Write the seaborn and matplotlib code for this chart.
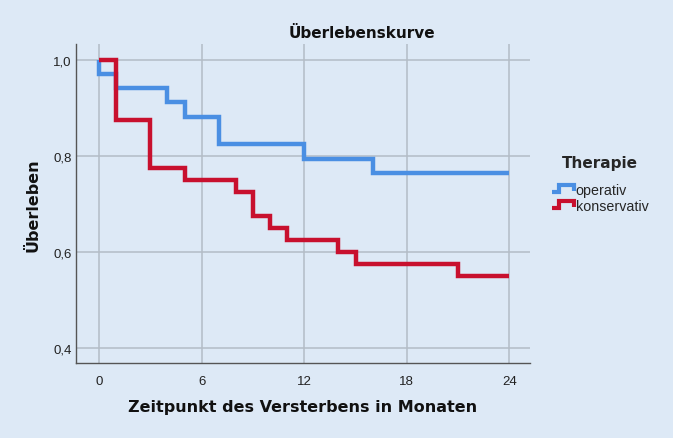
import pandas as pd
import numpy as np
import seaborn as sns
import matplotlib.pyplot as plt
from matplotlib.lines import Line2D
from matplotlib.legend_handler import HandlerBase

# Kaplan-Meier steps
op_time = [0, 0, 1, 4, 5, 7, 12, 16, 24]
op_surv = [1.0, 0.971, 0.941, 0.912, 0.882, 0.824, 0.794, 0.765, 0.765]
kons_time = [0, 1, 3, 5, 8, 9, 10, 11, 14, 15, 21, 24]
kons_surv = [1.0, 0.875, 0.775, 0.75, 0.725, 0.675, 0.65, 0.625, 0.6, 0.575, 0.55, 0.55]
groups = ["operativ", "konservativ"]
x_ticks = [0, 6, 12, 18, 24]
y_ticks = [0.4, 0.6, 0.8, 1.0]
y_ticklabels = ["0,4", "0,6", "0,8", "1,0"]

bg = "#dde9f6"
colors = {"operativ": "#4a8fe3", "konservativ": "#c8102e"}

df = pd.concat([
    pd.DataFrame({"Zeit": op_time, "Ueberleben": op_surv, "Therapie": "operativ"}),
    pd.DataFrame({"Zeit": kons_time, "Ueberleben": kons_surv, "Therapie": "konservativ"}),
], ignore_index=True)

sns.set_style("white", rc={"axes.facecolor": bg, "figure.facecolor": bg})
plt.rcParams["font.family"] = ["Liberation Sans", "DejaVu Sans"]

fig = plt.figure(figsize=(6.73, 4.39), dpi=100)
ax = fig.add_axes([76 / 673, 1 - 364 / 439, (530 - 76) / 673, (364 - 45) / 439])

sns.lineplot(data=df, x="Zeit", y="Ueberleben", hue="Therapie", hue_order=groups,
             palette=colors, estimator=None, sort=False, drawstyle="steps-post",
             linewidth=3.2, ax=ax, legend=True, solid_joinstyle="miter", solid_capstyle="butt")

ax.set_xlim(-1.35, 25.2)
ax.set_ylim(0.369, 1.033)
ax.set_xticks(x_ticks)
ax.set_yticks(y_ticks)
ax.set_yticklabels(y_ticklabels)
ax.tick_params(length=0, labelsize=9.5, colors="#222222")
ax.tick_params(axis="x", pad=9)
ax.tick_params(axis="y", pad=3)
ax.grid(True, color="#b3bcc6", linewidth=1.1)
ax.set_axisbelow(True)
for s in ["top", "right"]:
    ax.spines[s].set_visible(False)
for s in ["left", "bottom"]:
    ax.spines[s].set_color("#555555")
    ax.spines[s].set_linewidth(1.0)
ax.set_xlabel("")
ax.set_ylabel("")

bold = dict(family="DejaVu Sans", fontweight="bold", color="#111111")
fig.text(362 / 673, 1 - 33 / 439, "Überlebenskurve", ha="center", va="center", fontsize=11, **bold)
fig.text(303 / 673, 1 - 408 / 439, "Zeitpunkt des Versterbens in Monaten", ha="center", va="center", fontsize=11.5, **bold)
fig.text(33 / 673, 1 - 205 / 439, "Überleben", ha="center", va="center", rotation=90, fontsize=11.5, **bold)


class StepHandler(HandlerBase):
    def create_artists(self, legend, orig_handle, xdescent, ydescent, width, height, fontsize, trans):
        x0, y0 = -xdescent, -ydescent
        xs = [x0, x0 + 0.3 * width, x0 + 0.3 * width, x0 + width, x0 + width]
        ys = [y0 + 0.2 * height, y0 + 0.2 * height, y0 + 0.9 * height, y0 + 0.9 * height, y0 + 0.25 * height]
        ln = Line2D(xs, ys, color=orig_handle.get_color(), linewidth=3,
                    solid_joinstyle="miter", solid_capstyle="butt")
        ln.set_transform(trans)
        return [ln]


handles, labels = ax.get_legend_handles_labels()
ax.get_legend().remove()
leg = fig.legend(handles, labels, loc="upper left", bbox_to_anchor=(545 / 673, 1 - 149 / 439),
                 frameon=False, title="Therapie", fontsize=10.3, handlelength=1.5, handletextpad=0.15,
                 labelspacing=0.15, borderpad=0, handler_map={Line2D: StepHandler()},
                 title_fontproperties={"weight": "bold", "size": 11, "family": "DejaVu Sans"})
leg._legend_box.sep = 9

fig.savefig("out.png", dpi=100, facecolor=bg)
